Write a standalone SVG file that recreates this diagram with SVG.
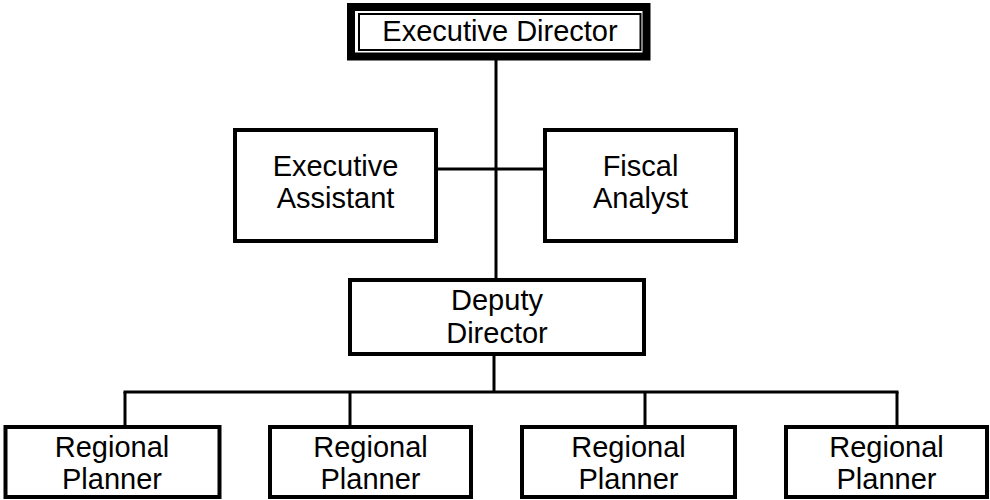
<svg xmlns="http://www.w3.org/2000/svg" width="990" height="500" viewBox="0 0 990 500">
<style>
.box{fill:#fff;stroke:#000;stroke-width:4}
.ln{fill:none;stroke:#000;stroke-width:3}
text{font-family:"Liberation Sans",Arial,sans-serif;font-size:29px;fill:#000;text-anchor:middle}
</style>
<rect width="990" height="500" fill="#fff"/>
<g id="connectors">
<line class="ln" x1="496" y1="58" x2="496" y2="280"/>
<line class="ln" x1="436" y1="169" x2="545" y2="169"/>
<line class="ln" x1="494" y1="355" x2="494" y2="392"/>
<line class="ln" x1="123.5" y1="392" x2="898.5" y2="392"/>
<line class="ln" x1="125" y1="392" x2="125" y2="427"/>
<line class="ln" x1="350" y1="392" x2="350" y2="427"/>
<line class="ln" x1="645" y1="392" x2="645" y2="427"/>
<line class="ln" x1="897" y1="392" x2="897" y2="427"/>
</g>
<g id="executive-director">
<rect x="351" y="7" width="295.5" height="49.5" fill="#fff" stroke="#000" stroke-width="8"/>
<rect x="359" y="14" width="281.5" height="36" fill="none" stroke="#000" stroke-width="2"/>
<text x="500" y="41">Executive Director</text>
</g>
<g id="executive-assistant">
<rect class="box" x="235" y="130" width="201" height="111"/>
<text x="335.5" y="176">Executive</text>
<text x="335.5" y="208">Assistant</text>
</g>
<g id="fiscal-analyst">
<rect class="box" x="545" y="130" width="191" height="111"/>
<text x="640.5" y="176">Fiscal</text>
<text x="640.5" y="208">Analyst</text>
</g>
<g id="deputy-director">
<rect class="box" x="350" y="280" width="294" height="74"/>
<text x="497" y="310">Deputy</text>
<text x="497" y="343">Director</text>
</g>
<g id="regional-planner-1">
<rect class="box" x="5.5" y="427" width="214" height="70"/>
<text x="112" y="456.5">Regional</text>
<text x="112" y="489">Planner</text>
</g>
<g id="regional-planner-2">
<rect class="box" x="270" y="427" width="201" height="70"/>
<text x="370.5" y="456.5">Regional</text>
<text x="370.5" y="489">Planner</text>
</g>
<g id="regional-planner-3">
<rect class="box" x="522" y="427" width="213" height="70"/>
<text x="628.5" y="456.5">Regional</text>
<text x="628.5" y="489">Planner</text>
</g>
<g id="regional-planner-4">
<rect class="box" x="786" y="427" width="201" height="70"/>
<text x="886.5" y="456.5">Regional</text>
<text x="886.5" y="489">Planner</text>
</g>
</svg>
